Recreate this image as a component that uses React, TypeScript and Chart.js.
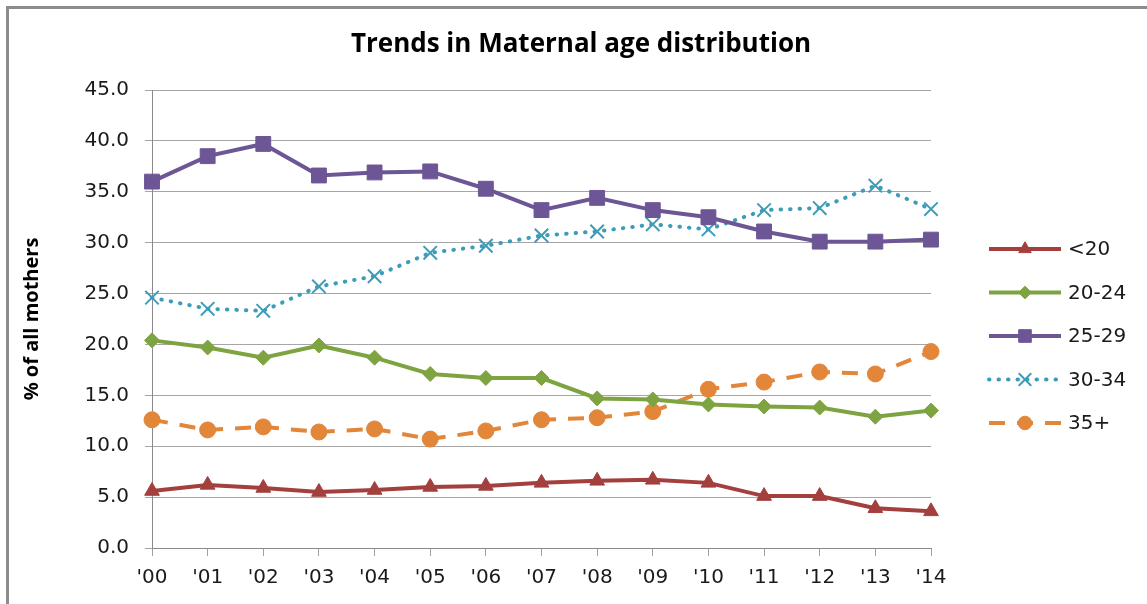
import React, { useEffect, useRef } from 'react';
import { Chart, registerables } from 'chart.js';
import { drawPoint } from 'chart.js/helpers';

Chart.register(...registerables);

const TITLE = 'Trends in Maternal age distribution';
const Y_TITLE = '% of all mothers';
const years = ["'00", "'01", "'02", "'03", "'04", "'05", "'06", "'07", "'08", "'09", "'10", "'11", "'12", "'13", "'14"];
const seriesNames = ['<20', '20-24', '25-29', '30-34', '35+'];
const under20 = [5.6, 6.2, 5.9, 5.5, 5.7, 6.0, 6.1, 6.4, 6.6, 6.7, 6.4, 5.1, 5.1, 3.9, 3.6];
const age20to24 = [20.4, 19.7, 18.7, 19.9, 18.7, 17.1, 16.7, 16.7, 14.7, 14.6, 14.1, 13.9, 13.8, 12.9, 13.5];
const age25to29 = [36.0, 38.5, 39.7, 36.6, 36.9, 37.0, 35.3, 33.2, 34.4, 33.2, 32.5, 31.1, 30.1, 30.1, 30.3];
const age30to34 = [24.6, 23.5, 23.3, 25.7, 26.7, 29.0, 29.7, 30.7, 31.1, 31.8, 31.3, 33.2, 33.4, 35.6, 33.3];
const age35plus = [12.6, 11.6, 11.9, 11.4, 11.7, 10.7, 11.5, 12.6, 12.8, 13.4, 15.6, 16.3, 17.3, 17.1, 19.3];
const yTicks = [0, 5, 10, 15, 20, 25, 30, 35, 40, 45];

const colors = ['#A33F3C', '#7EA442', '#6D5695', '#3D9DB8', '#E2863A'];
const pointStyles = ['triangle', 'rectRot', 'rect', 'crossRot', 'circle'];
const pointRadii = [8.5, 7.5, 10.5, 9.5, 8];
const dashes: number[][] = [[], [], [], [0.5, 9], [16, 12]];
const values = [under20, age20to24, age25to29, age30to34, age35plus];

const TICK_FONT = '"DejaVu Sans", sans-serif';

const titlePlugin = {
  id: 'customTitle',
  afterDraw(chart: any) {
    const ctx = chart.ctx;
    ctx.save();
    ctx.font = 'bold 26px "Open Sans", sans-serif';
    ctx.fillStyle = '#000';
    ctx.textAlign = 'center';
    ctx.textBaseline = 'middle';
    ctx.fillText(TITLE, 581, 45);
    ctx.restore();
  },
};

const legendPlugin = {
  id: 'customLegend',
  afterDraw(chart: any) {
    const ctx = chart.ctx;
    chart.data.datasets.forEach((ds: any, i: number) => {
      const y = 249 + i * 43.5;
      ctx.save();
      ctx.strokeStyle = ds.borderColor;
      ctx.lineWidth = ds.borderWidth;
      ctx.lineCap = ds.borderCapStyle || 'butt';
      ctx.setLineDash(ds.borderDash || []);
      ctx.beginPath();
      ctx.moveTo(989, y);
      ctx.lineTo(1061, y);
      ctx.stroke();
      ctx.setLineDash([]);
      ctx.fillStyle = ds.pointBackgroundColor;
      ctx.strokeStyle = ds.pointBorderColor;
      ctx.lineWidth = ds.pointBorderWidth;
      drawPoint(ctx, { pointStyle: ds.pointStyle, radius: ds.pointRadius * 0.85, borderWidth: ds.pointBorderWidth, rotation: 0 }, 1025, y);
      ctx.fillStyle = '#1a1a1a';
      ctx.font = '20px ' + TICK_FONT;
      ctx.textAlign = 'left';
      ctx.textBaseline = 'middle';
      ctx.fillText(ds.label, 1068, y + 1);
      ctx.restore();
    });
  },
};

export default function App() {
  const ref = useRef<HTMLCanvasElement | null>(null);
  useEffect(() => {
    if (!ref.current) return;
    const datasets = seriesNames.map((name, i) => ({
      label: name,
      data: values[i],
      borderColor: colors[i],
      backgroundColor: colors[i],
      pointBackgroundColor: colors[i],
      pointBorderColor: colors[i],
      pointBorderWidth: i === 3 ? 2 : 1,
      pointStyle: pointStyles[i],
      pointRadius: pointRadii[i],
      borderWidth: 4,
      borderDash: dashes[i],
      borderCapStyle: i === 3 ? 'round' : 'butt',
      tension: 0,
      fill: false,
    }));
    const chart = new Chart(ref.current, {
      type: 'line',
      data: { labels: years, datasets: datasets as any },
      plugins: [titlePlugin, legendPlugin],
      options: {
        animation: false,
        responsive: false,
        layout: { padding: { top: 90, right: 216, left: 0, bottom: 0 } },
        plugins: { legend: { display: false }, title: { display: false }, tooltip: { enabled: false } },
        scales: {
          x: {
            type: 'category',
            offset: false,
            grid: { drawOnChartArea: false, drawTicks: true, tickLength: 8, color: '#a0a0a0' },
            border: { display: true, color: '#8a8a8a', width: 1 },
            ticks: { color: '#1a1a1a', font: { family: TICK_FONT, size: 20 }, padding: 10, maxRotation: 0, autoSkip: false },
            afterFit(scale: any) { scale.height = 56; },
          },
          y: {
            min: 0,
            max: 45,
            afterBuildTicks(scale: any) { scale.ticks = yTicks.map((v) => ({ value: v })); },
            grid: { color: '#a6a6a6', tickLength: 7, drawTicks: true },
            border: { display: true, color: '#8a8a8a', width: 1 },
            ticks: {
              color: '#1a1a1a',
              font: { family: TICK_FONT, size: 20 },
              padding: 16,
              callback: (v: any) => Number(v).toFixed(1),
            },
            title: {
              display: true,
              text: Y_TITLE,
              color: '#000',
              font: { family: '"Open Sans", sans-serif', size: 20, weight: 'bold' },
              padding: { top: 20, bottom: 0 },
            },
            afterFit(scale: any) { scale.width = 152; },
          },
        },
      } as any,
    });
    return () => chart.destroy();
  }, []);
  return (
    <div style={{ position: 'fixed', left: 0, top: 0, width: 1147, height: 604, background: '#fff', overflow: 'hidden' }}>
      <div style={{ position: 'absolute', left: 6, top: 6, width: 1200, height: 700, borderLeft: '3px solid #8c8c8c', borderTop: '3px solid #8c8c8c' }} />
      <canvas ref={ref} width={1147} height={604} style={{ position: 'absolute', left: 0, top: 0, display: 'block' }} />
    </div>
  );
}
